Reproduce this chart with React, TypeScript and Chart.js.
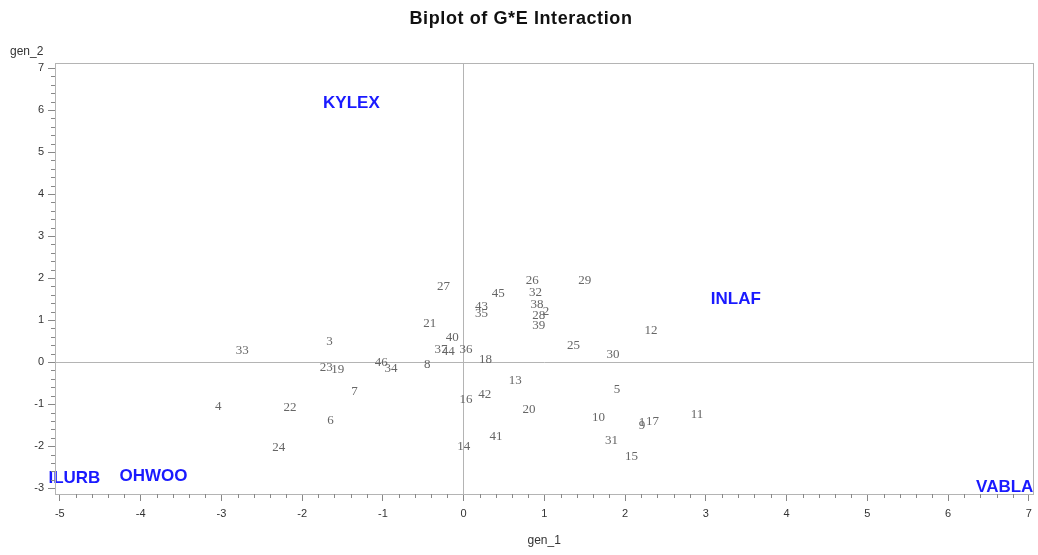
import React, { useEffect, useRef } from 'react';
import { Chart, registerables } from 'chart.js';

Chart.register(...registerables);

const chartTitle = 'Biplot of G*E Interaction';
const xAxisTitle = 'gen_1';
const yAxisTitle = 'gen_2';

const genotypeLabels = [
  '1', '2', '3', '4', '5', '6', '7', '8', '9', '10',
  '11', '12', '13', '14', '15', '16', '17', '18', '19', '20',
  '21', '22', '23', '24', '25', '26', '27', '28', '29', '30',
  '31', '32', '33', '34', '35', '36', '37', '38', '39', '40',
  '41', '42', '43', '44', '45', '46',
];
const genotypeX = [
  2.21, 1.02, -1.66, -3.04, 1.9, -1.65, -1.35, -0.45, 2.21, 1.67,
  2.89, 2.32, 0.64, 0.0, 2.08, 0.03, 2.34, 0.27, -1.56, 0.81,
  -0.42, -2.15, -1.7, -2.29, 1.36, 0.85, -0.25, 0.93, 1.5, 1.85,
  1.83, 0.89, -2.74, -0.9, 0.22, 0.03, -0.28, 0.91, 0.93, -0.14,
  0.4, 0.26, 0.22, -0.19, 0.43, -1.02,
];
const genotypeY = [
  -1.43, 1.2, 0.48, -1.06, -0.65, -1.4, -0.69, -0.07, -1.52, -1.32,
  -1.24, 0.74, -0.43, -2.01, -2.25, -0.9, -1.42, 0.05, -0.17, -1.12,
  0.92, -1.08, -0.13, -2.03, 0.4, 1.93, 1.79, 1.1, 1.93, 0.18,
  -1.88, 1.66, 0.27, -0.16, 1.16, 0.3, 0.29, 1.38, 0.87, 0.59,
  -1.78, -0.78, 1.33, 0.24, 1.63, -0.02,
];

const environmentLabels = ['KYLEX', 'INLAF', 'ILURB', 'OHWOO', 'VABLA'];
const environmentX = [-1.39, 3.37, -4.82, -3.84, 6.7];
const environmentY = [6.16, 1.5, -2.77, -2.71, -2.98];

const xTickValues = [-5, -4, -3, -2, -1, 0, 1, 2, 3, 4, 5, 6, 7];
const yTickValues = [-3, -2, -1, 0, 1, 2, 3, 4, 5, 6, 7];

const SANS = '"Liberation Sans", Arial, Helvetica, sans-serif';
const FRAME = '#b4b4b4';

const labelPlugin = {
  id: 'pointTextLabels',
  afterDatasetsDraw(chart: any) {
    const ctx = chart.ctx;
    chart.data.datasets.forEach((ds: any, i: number) => {
      const meta = chart.getDatasetMeta(i);
      ctx.save();
      ctx.font = ds.labelFont;
      ctx.fillStyle = ds.labelColor;
      ctx.textAlign = 'center';
      ctx.textBaseline = 'middle';
      meta.data.forEach((el: any, j: number) => {
        ctx.fillText(ds.pointLabels[j], el.x, el.y);
      });
      ctx.restore();
    });
  },
};

const decorPlugin = {
  id: 'decor',
  afterDraw(chart: any) {
    const ctx = chart.ctx;
    const a = chart.chartArea;
    const xs = chart.scales.x;
    const ys = chart.scales.y;
    ctx.save();
    // frame
    ctx.strokeStyle = FRAME;
    ctx.lineWidth = 1;
    ctx.strokeRect(Math.round(a.left) + 0.5, Math.round(a.top) + 0.5, Math.round(a.right - a.left), Math.round(a.bottom - a.top));
    // minor ticks
    ctx.strokeStyle = '#888';
    ctx.beginPath();
    for (let i = 0; i < xTickValues.length - 1; i++) {
      for (let k = 1; k < 5; k++) {
        const v = xTickValues[i] + k * 0.2;
        const px = Math.round(xs.getPixelForValue(v)) + 0.5;
        ctx.moveTo(px, a.bottom);
        ctx.lineTo(px, a.bottom + 4);
      }
    }
    for (let i = 0; i < yTickValues.length - 1; i++) {
      for (let k = 1; k < 5; k++) {
        const v = yTickValues[i] + k * 0.2;
        const py = Math.round(ys.getPixelForValue(v)) + 0.5;
        ctx.moveTo(a.left, py);
        ctx.lineTo(a.left - 4, py);
      }
    }
    ctx.stroke();
    // titles
    ctx.fillStyle = '#111';
    ctx.font = `bold 18px ${SANS}`;
    (ctx as any).letterSpacing = '0.6px';
    ctx.textAlign = 'center';
    ctx.textBaseline = 'middle';
    ctx.fillText(chartTitle, chart.width / 2 + 2, 19);
    (ctx as any).letterSpacing = '0px';
    ctx.fillStyle = '#333';
    ctx.font = `12px ${SANS}`;
    ctx.fillText(xAxisTitle, (a.left + a.right) / 2, 541);
    ctx.textAlign = 'left';
    ctx.fillText(yAxisTitle, 10, 52);
    ctx.restore();
  },
};

export default function App() {
  const canvasRef = useRef<HTMLCanvasElement | null>(null);

  useEffect(() => {
    if (!canvasRef.current) return;
    const genotypeData = genotypeX.map((x, i) => ({ x, y: genotypeY[i] }));
    const environmentData = environmentX.map((x, i) => ({ x, y: environmentY[i] }));
    const zeroGrid = (c: any) => (c.tick && c.tick.value === 0 ? FRAME : 'rgba(0,0,0,0)');
    const chart = new Chart(canvasRef.current, {
      type: 'scatter',
      data: {
        datasets: [
          {
            label: 'Genotypes',
            data: genotypeData,
            pointRadius: 0,
            pointHoverRadius: 0,
            pointLabels: genotypeLabels,
            labelFont: '13px "Liberation Serif", "Times New Roman", serif',
            labelColor: '#666',
          } as any,
          {
            label: 'Environments',
            data: environmentData,
            pointRadius: 0,
            pointHoverRadius: 0,
            pointLabels: environmentLabels,
            labelFont: `bold 17px ${SANS}`,
            labelColor: '#1a1aff',
          } as any,
        ],
      },
      options: {
        animation: false,
        responsive: true,
        maintainAspectRatio: false,
        layout: { padding: { top: 63, right: 2, left: 0, bottom: 0 } },
        plugins: {
          legend: { display: false },
          title: { display: false },
          tooltip: { enabled: false },
        },
        scales: {
          x: {
            type: 'linear',
            min: -5.06,
            max: 7.054,
            afterBuildTicks: (s: any) => {
              s.ticks = xTickValues.map((v) => ({ value: v }));
            },
            afterFit: (s: any) => {
              s.height = 61;
            },
            ticks: {
              autoSkip: false,
              maxRotation: 0,
              padding: 6,
              color: '#333',
              font: { family: SANS, size: 11 },
            },
            grid: {
              color: zeroGrid,
              tickColor: '#888',
              tickLength: 7,
            },
            border: { color: FRAME },
          },
          y: {
            type: 'linear',
            min: -3.14,
            max: 7.12,
            afterBuildTicks: (s: any) => {
              s.ticks = yTickValues.map((v) => ({ value: v }));
            },
            afterFit: (s: any) => {
              s.width = 55;
            },
            ticks: {
              autoSkip: false,
              padding: 4,
              color: '#333',
              font: { family: SANS, size: 11 },
            },
            grid: {
              color: zeroGrid,
              tickColor: '#888',
              tickLength: 7,
            },
            border: { color: FRAME },
          },
        },
      } as any,
      plugins: [labelPlugin, decorPlugin],
    });
    return () => chart.destroy();
  }, []);

  return (
    <div style={{ position: 'fixed', left: 0, top: 0, width: 1038, height: 555, background: '#fff' }}>
      <canvas ref={canvasRef} />
    </div>
  );
}
